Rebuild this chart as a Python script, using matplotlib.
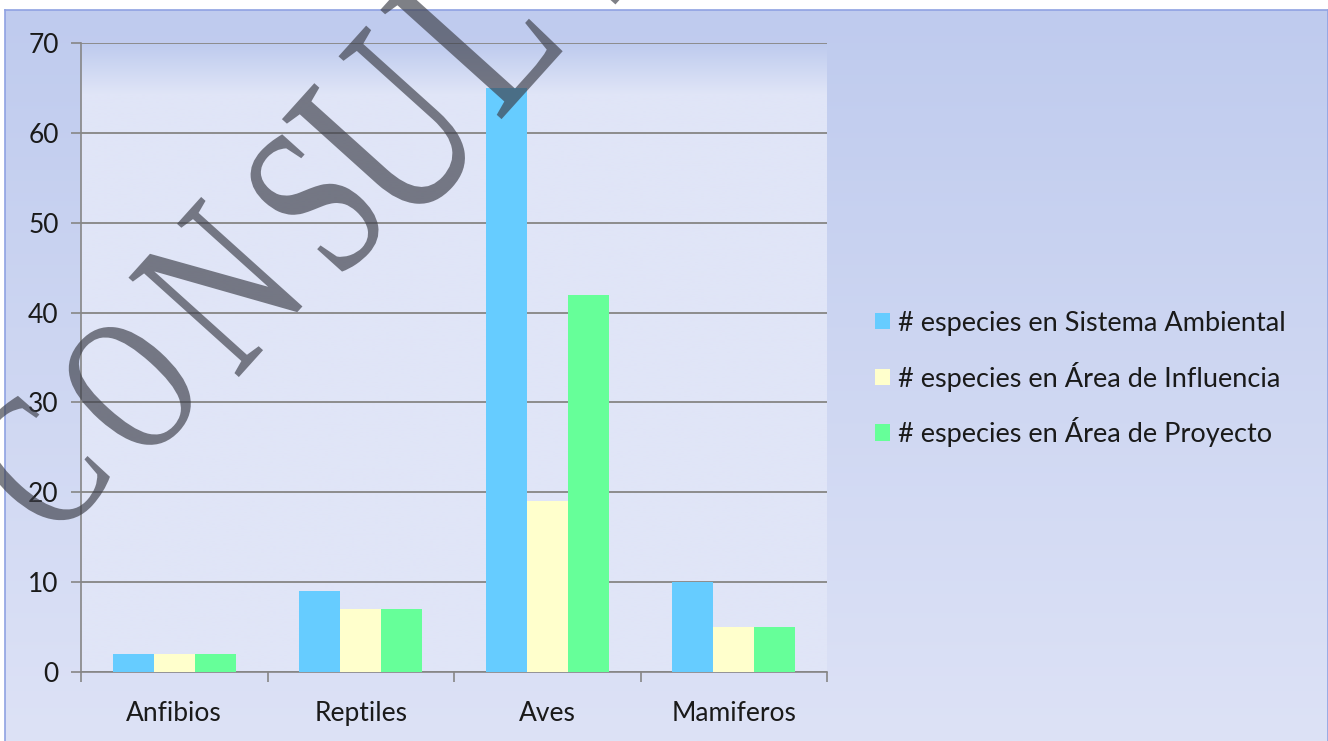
import matplotlib

matplotlib.use("Agg")

import matplotlib.pyplot as plt
import numpy as np
from matplotlib.font_manager import FontProperties
from matplotlib.patches import Patch, PathPatch
from matplotlib.textpath import TextPath
from matplotlib.transforms import Affine2D

categories = ["Anfibios", "Reptiles", "Aves", "Mamiferos"]
series_names = [
    "# especies en Sistema Ambiental",
    "# especies en Área de Influencia",
    "# especies en Área de Proyecto",
]
sistema_ambiental = [2, 9, 65, 10]
area_influencia = [2, 7, 19, 5]
area_proyecto = [2, 7, 42, 5]
y_ticks = [0, 10, 20, 30, 40, 50, 60, 70]

series_values = [sistema_ambiental, area_influencia, area_proyecto]
series_colors = ["#66CCFF", "#FFFFCC", "#66FF99"]

# watermark letters: char, centre x px, centre y px, em size px
watermark = [
    ("C", 38, 466, 142),
    ("O", 130, 386, 142),
    ("N", 220, 287, 162),
    ("S", 315, 202, 158),
    ("U", 388, 130, 185),
    ("L", 472, 30, 178),
    ("T", 572, -72, 182),
]

W, H = 1328, 741
fig = plt.figure(figsize=(W / 100, H / 100), dpi=100)
fig.patch.set_facecolor("white")


def px_rect(left, top, right, bottom):
    return [left / W, 1 - bottom / H, (right - left) / W, (bottom - top) / H]


# chart area background with vertical gradient
bg = fig.add_axes(px_rect(5, 10, 1328, 741), zorder=-5)
top_c = np.array([191, 203, 238]) / 255
bot_c = np.array([221, 226, 246]) / 255
t = np.linspace(0, 1, 256)[:, None]
grad = top_c[None, :] * (1 - t) + bot_c[None, :] * t
bg.imshow(grad[:, None, :], aspect="auto", extent=(0, 1, 0, 1), interpolation="bilinear")
bg.set_xlim(0, 1)
bg.set_ylim(0, 1)
bg.set_xticks([])
bg.set_yticks([])
bg.spines["bottom"].set_visible(False)
for side in ("top", "left", "right"):
    bg.spines[side].set_color("#8FA2E2")
    bg.spines[side].set_linewidth(1.2)

# plot area
ax = fig.add_axes(px_rect(81, 43, 827, 672), zorder=0)
rows = np.linspace(0, 1, 300)[:, None]
plot_top = np.array([190, 203, 238]) / 255
plot_mid = np.array([224, 229, 247]) / 255
blend = np.clip(rows / 0.08, 0, 1)
pgrad = plot_top[None, :] * (1 - blend) + plot_mid[None, :] * blend
ax.imshow(pgrad[:, None, :], aspect="auto", extent=(-0.5, 3.5, 0, 70),
          interpolation="bilinear", zorder=0)

x = np.arange(len(categories))
width = 0.22
for i, (vals, color, name) in enumerate(zip(series_values, series_colors, series_names)):
    ax.bar(x + (i - 1) * width, vals, width, color=color, edgecolor="none",
           label=name, zorder=3)

ax.set_xlim(-0.5, 3.5)
ax.set_ylim(0, 70)
ax.set_yticks(y_ticks)
ax.yaxis.grid(True, color="#8C8C8C", linewidth=1.4, zorder=1)
ax.set_axisbelow(True)
ax.set_xticks(x)
ax.set_xticklabels(categories)
ax.set_xticks(np.arange(-0.5, 4.0, 1.0), minor=True)
ax.tick_params(axis="x", which="major", length=0, pad=21)
ax.tick_params(axis="x", which="minor", length=7, width=1.2, color="#868686", direction="out")
ax.tick_params(axis="y", length=7, width=1.2, color="#868686", direction="out", pad=9)
for side in ("top", "right"):
    ax.spines[side].set_visible(False)
for side in ("left", "bottom"):
    ax.spines[side].set_color("#868686")
    ax.spines[side].set_linewidth(1.2)

for lab in ax.get_xticklabels() + ax.get_yticklabels():
    lab.set_family("Lato")
    lab.set_fontsize(19)
    lab.set_color("#1a1a1a")

handles = [Patch(facecolor=c, edgecolor="none") for c in series_colors]
fig.legend(handles, series_names, loc="center left",
           bbox_to_anchor=(875 / W, 1 - 379 / H), frameon=False,
           prop={"family": "Lato", "size": 19.5}, handlelength=0.55,
           handleheight=0.55, handletextpad=0.3, labelspacing=0.95,
           borderpad=0, borderaxespad=0, labelcolor="#1a1a1a")

# watermark overlay in pixel coordinates
wm = fig.add_axes([0, 0, 1, 1], zorder=10)
wm.set_xlim(0, W)
wm.set_ylim(0, H)
wm.axis("off")
wm.patch.set_visible(False)
serif = FontProperties(family="Liberation Serif")
angle = 48
stretch = 1.4
for ch, cx, cy, size in watermark:
    tp = TextPath((0, 0), ch, size=1, prop=serif)
    ext = tp.get_extents()
    tr = (Affine2D()
          .translate(-(ext.x0 + ext.x1) / 2, -(ext.y0 + ext.y1) / 2)
          .scale(size, size * stretch)
          .rotate_deg(angle)
          .translate(cx, H - cy))
    wm.add_patch(PathPatch(tp, transform=tr + wm.transData, facecolor=(60 / 255, 62 / 255, 72 / 255),
                           edgecolor="none", alpha=0.66, clip_on=False))

fig.savefig("out.png", dpi=100)
